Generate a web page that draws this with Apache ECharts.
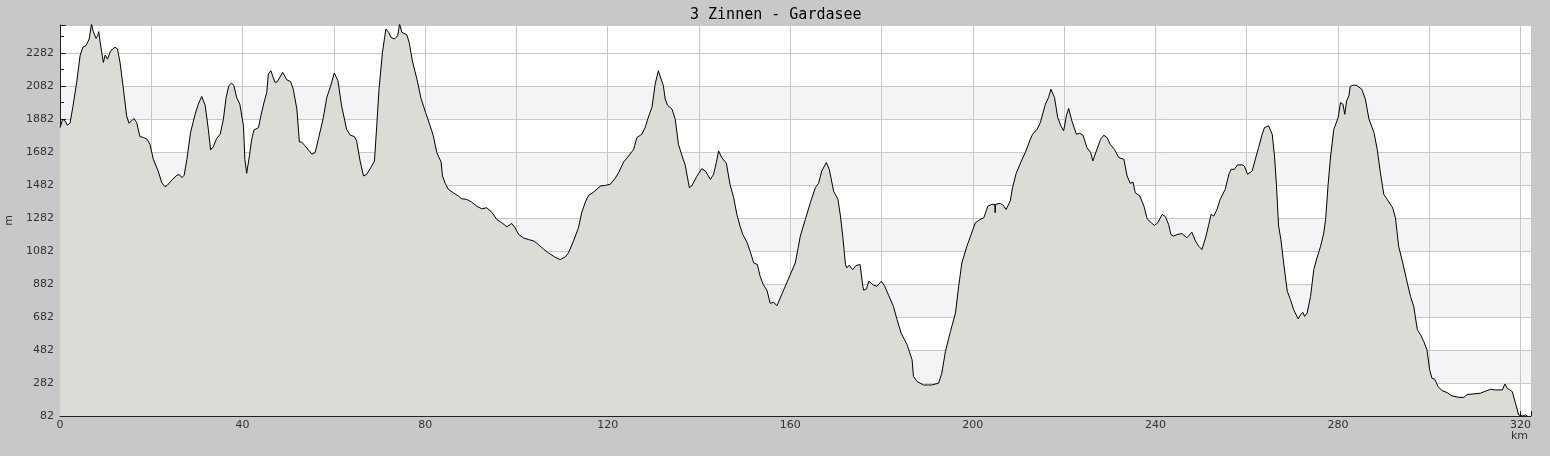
<!DOCTYPE html>
<html>
<head>
<meta charset="utf-8">
<style>html,body{margin:0;padding:0;background:#c8c8c8;}#c{width:1550px;height:456px;}</style>
<script src="https://cdn.jsdelivr.net/npm/echarts@6/dist/echarts.min.js"></script>
</head>
<body>
<div id="c"></div>
<script>
const titleText = '3 Zinnen - Gardasee';
const yTicks = [82, 282, 482, 682, 882, 1082, 1282, 1482, 1682, 1882, 2082, 2282];
const xLabelsShown = [0, 40, 80, 120, 160, 200, 240, 280, 320];

const distKm = [
0,0.6,1.1,1.6,2.2,2.8,3.65,4.4,5.0,5.7,6.4,6.9,7.3,7.9,8.25,8.5,8.8,9.5,9.9,10.4,11.1,12.05,12.6,13.15,13.9,14.6,15.1,15.7,16.2,16.8,17.5,18.3,19.1,19.7,20.45,21.5,22.3,23.0,23.5,24.5,25.6,26.15,26.7,27.2,27.8,28.6,29.6,30.3,31.05,31.8,32.5,33.0,33.6,34.3,35.1,35.8,36.4,37.0,37.6,38.1,38.7,39.4,40.2,40.5,40.9,41.5,42.0,42.5,43.5,44.0,44.7,45.3,45.65,46.2,47.1,47.6,48.8,49.7,50.55,51.1,51.9,52.45,52.95,53.7,54.6,
55.2,55.9,56.6,57.7,58.45,59.2,60.1,60.9,61.7,62.8,63.6,64.5,65.0,65.75,66.5,67.2,68.3,68.9,69.4,69.9,70.65,71.4,72.0,72.5,73.3,74.0,74.4,74.9,76.0,76.5,77.2,78.2,79.1,80.1,81.1,81.8,82.55,83.5,83.8,84.4,85.1,86.2,87.3,88.0,89.1,90.2,91.3,92.4,93.5,94.6,95.7,96.8,97.9,99.0,99.7,100.5,101.5,102.6,103.9,104.8,105.9,107.0,
107.4,108.5,109.6,110.7,111.4,112.5,113.6,114.3,115.1,115.8,116.9,118.4,119.5,120.55,121.6,122.4,123.5,124.6,125.7,126.4,127.5,128.2,129.0,129.7,130.4,131.1,131.5,132.2,132.6,133.1,134.1,134.8,135.5,136.3,137.0,137.35,137.9,138.4,139.5,140.6,141.4,142.5,143.2,143.8,144.3,145.0,146.0,146.8,147.6,148.3,149.0,149.6,150.5,151.2,152.0,152.8,153.4,154.1,154.9,155.6,156.3,157.1,157.8,158.9,160.0,
161.1,161.8,162.2,163.3,164.4,165.5,166.2,166.9,167.9,168.55,169.5,170.45,171.0,171.5,172.1,172.4,172.9,173.7,174.4,175.3,175.9,176.1,176.7,177.2,178.3,179.0,179.95,180.7,181.6,182.6,183.4,184.3,185.6,186.7,187.0,187.8,189.2,191.0,192.5,193.2,194.0,195.1,196.2,196.9,197.6,198.7,199.5,200.55,201.6,202.4,203.3,204.2,204.8,204.9,205.0,206.0,206.7,207.3,208.2,208.7,209.5,210.8,211.5,212.6,213.1,214.1,
214.8,215.9,216.6,217.1,217.9,218.6,219.3,219.9,220.5,221.0,221.7,222.7,223.4,224.15,225.0,225.8,226.3,227.2,228.0,228.7,229.4,230.1,231.0,232.0,233.1,233.8,234.5,235.1,235.6,236.6,237.5,238.2,239.1,239.8,240.5,241.5,242.2,242.9,243.4,244.0,244.75,245.8,246.9,247.3,248.0,248.8,249.5,250.2,251.0,251.7,252.2,252.8,253.5,254.2,255.3,256.1,256.6,257.3,258.0,259.0,259.5,260.2,261.2,261.9,262.6,263.4,263.9,264.8,265.6,266.1,266.5,267.0,267.5,268.1,
268.9,269.6,270.3,271.3,271.8,272.3,272.7,273.25,274.0,274.7,275.4,276.2,276.9,277.3,277.85,278.4,279.1,280.05,280.55,281.1,281.5,281.9,282.4,282.7,283.5,284.2,285.2,286.0,286.8,287.9,288.6,289.3,290.05,290.8,292.0,292.6,293.3,294.2,295.2,295.9,296.6,297.4,298.1,298.8,299.5,300.1,300.6,301.2,301.95,302.8,303.9,305.0,306.5,307.6,308.3,309.8,311.2,312.3,313.4,314.5,316.0,316.6,317.1,318.2,318.9,319.6,320.4,321.1,321.5
];

const elevM = [
1830,1881,1871,1845,1857,1952,2104,2266,2317,2327,2367,2459,2412,2371,2387,2412,2347,2225,2270,2245,2296,2317,2307,2225,2063,1901,1857,1871,1885,1861,1776,1770,1759,1729,1638,1567,1496,1472,1480,1512,1541,1545,1527,1541,1638,1800,1911,1972,2019,1966,1820,1695,1715,1764,1790,1881,2013,2084,2100,2084,2013,1972,1841,1638,1553,1658,1759,1816,1830,1901,1982,2043,2155,2175,2104,2108,2165,2120,2108,2063,1942,1743,1743,1719,1689,
1669,1679,1759,1891,2013,2074,2161,2114,1962,1820,1784,1776,1749,1628,1537,1547,1597,1628,1841,2063,2286,2428,2408,2377,2367,2387,2459,2408,2392,2347,2235,2124,2007,1922,1841,1780,1679,1622,1537,1492,1456,1435,1415,1399,1395,1379,1354,1338,1344,1318,1273,1253,1229,1249,1223,1182,1162,1152,1142,1121,1095,1071,
1061,1044,1030,1046,1071,1142,1223,1314,1379,1419,1439,1476,1480,1486,1521,1557,1622,1658,1699,1770,1790,1830,1901,1952,2094,2175,2165,2084,2003,1966,1942,1881,1729,1658,1602,1547,1466,1476,1533,1581,1567,1516,1547,1618,1689,1648,1614,1486,1405,1304,1233,1182,1136,1081,1010,1000,929,878,844,765,771,751,797,868,939,
1010,1111,1172,1273,1375,1466,1492,1567,1618,1577,1445,1395,1294,1172,1000,980,996,969,994,1000,868,844,852,899,874,868,899,868,811,747,666,584,514,422,321,291,270,270,281,341,473,595,706,868,1010,1111,1172,1253,1273,1283,1354,1365,1365,1314,1365,1371,1358,1334,1385,1466,1553,1638,1679,1759,1790,1820,
1861,1972,2013,2063,2013,1891,1841,1810,1901,1946,1871,1790,1796,1784,1709,1679,1628,1699,1759,1784,1770,1729,1699,1648,1638,1537,1492,1500,1435,1415,1354,1277,1253,1237,1253,1304,1290,1243,1182,1172,1182,1188,1162,1152,1196,1142,1111,1091,1162,1243,1304,1294,1334,1395,1456,1547,1577,1577,1604,1604,1597,1547,1567,1638,1709,1790,1830,1841,1790,1658,1496,1233,1152,1010,
838,787,726,670,696,710,686,706,807,969,1040,1111,1192,1273,1486,1658,1820,1891,1982,1972,1911,1992,2023,2080,2088,2084,2063,2003,1881,1800,1699,1557,1425,1395,1344,1283,1111,1010,888,807,747,605,574,534,483,362,311,305,260,236,224,204,195,195,212,216,220,232,244,240,240,276,250,230,159,88,82,88,82
];

const profile = distKm.map((d, i) => [d, elevM[i]]);

const W = '#ffffff', B = '#f4f3f6';
const chart = echarts.init(document.getElementById('c'), null, {renderer: 'canvas'});
chart.setOption({
  backgroundColor: '#c8c8c8',
  animation: false,
  title: {
    text: titleText,
    left: 685,
    top: 3,
    textStyle: {fontFamily: 'DejaVu Sans Mono', fontSize: 15, fontWeight: 'normal', color: '#000'}
  },
  grid: {left: 60, right: 19, top: 25, bottom: 40, show: true, backgroundColor: '#fff', borderWidth: 0,
         containLabel: false, outerBoundsMode: 'none'},
  graphic: [{
    type: 'text', left: 1511, top: 431,
    style: {text: 'km', font: '11px "DejaVu Sans"', fill: '#333'}
  }],
  xAxis: {
    type: 'value', min: 0, max: 322.3, interval: 20,
    axisLine: {show: true, lineStyle: {color: '#222', width: 1}},
    axisTick: {show: true, inside: true, length: 5, lineStyle: {color: '#222'}},
    minorTick: {show: true, splitNumber: 2, length: 3, lineStyle: {color: '#222'}},
    axisLabel: {
      margin: 4, fontFamily: 'DejaVu Sans', fontSize: 11, color: '#333',
      showMaxLabel: false,
      formatter: v => (xLabelsShown.indexOf(v) >= 0 ? String(v) : '')
    },
    splitLine: {show: true, lineStyle: {color: '#c8c8c8', width: 1}}
  },
  yAxis: {
    type: 'value', min: 82, max: 2452, interval: 200,
    name: 'm', nameLocation: 'middle', nameGap: 43,
    nameTextStyle: {fontFamily: 'DejaVu Sans', fontSize: 11, color: '#333'},
    axisLine: {show: true, lineStyle: {color: '#222', width: 1}},
    axisTick: {show: true, inside: true, length: 6, lineStyle: {color: '#222'}},
    minorTick: {show: true, splitNumber: 2, length: 4, lineStyle: {color: '#222'}},
    axisLabel: {
      margin: 6, fontFamily: 'DejaVu Sans', fontSize: 11, color: '#333',
      showMaxLabel: false,
      formatter: v => (yTicks.indexOf(v) >= 0 ? String(v) : '')
    },
    splitLine: {show: true, lineStyle: {color: '#c8c8c8', width: 1}},
    splitArea: {show: true, areaStyle: {color: [W, B, W, B, W, B, W, B, W, B, W, W]}}
  },
  series: [{
    type: 'line',
    data: profile,
    showSymbol: false,
    symbol: 'none',
    smooth: false,
    lineStyle: {color: '#000', width: 1},
    areaStyle: {color: '#dcdbd6', opacity: 1, origin: 'start'},
    silent: true
  }]
});
</script>
</body>
</html>
